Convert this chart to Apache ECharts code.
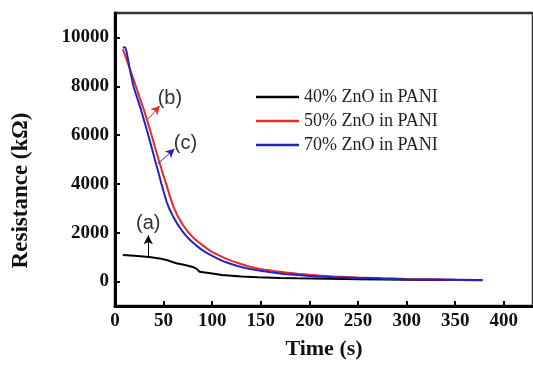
<!DOCTYPE html>
<html>
<head>
<meta charset="utf-8">
<script src="https://cdn.jsdelivr.net/npm/echarts@6/dist/echarts.min.js"></script>
<style>html,body{margin:0;padding:0;background:#fff}#c{width:533px;height:365px}</style>
</head>
<body>
<div id="c"></div>
<script>
var seriesNames = ['40% ZnO in PANI', '50% ZnO in PANI', '70% ZnO in PANI'];
var seriesColors = ['#000000', '#e42a2a', '#2323c2'];

var dataA = [[8,1085],[20,1060],[35,1010],[46,950],[55,860],[63,750],[72,680],[80,600],[84,520],[87,400],[100,330],[110,270],[130,210],[147,175],[170,150],[188,135],[220,115],[250,100],[300,80],[350,65],[378,55]];
var dataB = [[8,9520],[11,9200],[14,8850],[18,8400],[21.5,8000],[26,7450],[30,7000],[34,6480],[37.6,6000],[41,5520],[45,4980],[49,4450],[52.8,3980],[56,3550],[60,3080],[64,2720],[70,2310],[75,2040],[80,1820],[85,1640],[90,1494],[95,1340],[100,1210],[107,1070],[113.6,950],[120,850],[128,740],[136,640],[144,560],[155,480],[165,420],[176,370],[188,320],[200,280],[210,250],[225,210],[250,165],[275,135],[300,110],[325,95],[350,80],[378,65]];
var dataC = [[8,9600],[10.6,9590],[12,9400],[15,8750],[19,8000],[23,7500],[27,7000],[31,6450],[34.2,6000],[38,5450],[41,5000],[44.5,4500],[47.8,4000],[50.5,3620],[53,3280],[56,2970],[60,2650],[64.6,2330],[69,2080],[73,1880],[78,1670],[83.2,1494],[88,1340],[93,1210],[99,1070],[105,950],[111,840],[118,740],[126,640],[133.8,555],[145,470],[160,380],[174,315],[188,265],[200,230],[210,205],[225,180],[250,150],[275,122],[300,100],[325,88],[350,75],[378,62]];

var xTicks = [0,50,100,150,200,250,300,350,400];
var yTicks = [0,2000,4000,6000,8000,10000];

// annotation arrows: [from, to], label text and label position (data coords)
var arrowA = [[34.2,1000],[34.2,1900]], labelA = ['(a)', [34.2,2380]];
var arrowB = [[34.2,6663],[46.1,7205]], labelB = ['(b)', [56.5,7480]];
var arrowC = [[44.3,4827],[61.2,5439]], labelC = ['(c)', [72.4,5643]];

function ann(arrow, label, color) {
  return {
    markLine: {
      silent: true, animation: false,
      symbol: ['none', 'arrow'], symbolSize: [7, 9],
      lineStyle: { color: color, width: 1, type: 'solid' },
      label: { show: false },
      data: [[{ coord: arrow[0] }, { coord: arrow[1] }]]
    },
    markPoint: {
      silent: true, animation: false,
      symbol: 'circle', symbolSize: 0,
      label: { show: true, position: 'inside', formatter: label[0], color: '#333', fontSize: 20, fontFamily: 'Liberation Sans, Arial, sans-serif' },
      data: [{ coord: label[1] }]
    }
  };
}

function mk(name, data, color, a) {
  var s = {
    name: name, type: 'line', data: data, symbol: 'none', smooth: false,
    lineStyle: { color: color, width: 2 }, itemStyle: { color: color },
    animation: false, z: 3
  };
  var m = ann(a[0], a[1], color);
  s.markLine = m.markLine; s.markPoint = m.markPoint;
  return s;
}

var chart = echarts.init(document.getElementById('c'));
chart.setOption({
  backgroundColor: '#fff',
  grid: { left: 115, top: 13, right: -6, bottom: 57.5, show: true, borderColor: '#333', borderWidth: 2.5 },
  legend: {
    orient: 'vertical', left: 251, top: 83,
    icon: 'rect', itemWidth: 43, itemHeight: 2.5, itemGap: 6,
    textStyle: { fontFamily: 'Liberation Serif, Times New Roman, serif', fontSize: 18, color: '#222', lineHeight: 18 },
    data: seriesNames
  },
  xAxis: {
    type: 'value', min: 0, max: 430, interval: 50,
    name: 'Time (s)', nameLocation: 'middle', nameGap: 32,
    nameTextStyle: { fontFamily: 'Liberation Serif, Times New Roman, serif', fontWeight: 'bold', fontSize: 22, color: '#111' },
    axisLine: { show: true, onZero: false, lineStyle: { color: '#000', width: 3 } },
    axisTick: { show: true, inside: true, length: 5, lineStyle: { color: '#000', width: 2 }, customValues: xTicks },
    axisLabel: { margin: 6, fontFamily: 'Liberation Serif, Times New Roman, serif', fontWeight: 'bold', fontSize: 19, color: '#111', customValues: xTicks, formatter: function (v) { return String(v); } },
    splitLine: { show: false }
  },
  yAxis: {
    type: 'value', min: -1000, max: 11000, interval: 1000,
    name: 'Resistance (kΩ)', nameLocation: 'middle', nameGap: 82,
    nameTextStyle: { fontFamily: 'Liberation Serif, Times New Roman, serif', fontWeight: 'bold', fontSize: 23, color: '#111', padding: [0, 62, 0, 0] },
    axisLine: { show: true, onZero: false, lineStyle: { color: '#000', width: 3 } },
    axisTick: { show: true, inside: true, length: 5, lineStyle: { color: '#000', width: 2 }, customValues: yTicks },
    axisLabel: { margin: 6, fontFamily: 'Liberation Serif, Times New Roman, serif', fontWeight: 'bold', fontSize: 19, color: '#111', customValues: yTicks, formatter: function (v) { return String(v); } },
    splitLine: { show: false }
  },
  series: [
    mk(seriesNames[0], dataA, seriesColors[0], [arrowA, labelA]),
    mk(seriesNames[1], dataB, seriesColors[1], [arrowB, labelB]),
    mk(seriesNames[2], dataC, seriesColors[2], [arrowC, labelC])
  ]
});
</script>
</body>
</html>
